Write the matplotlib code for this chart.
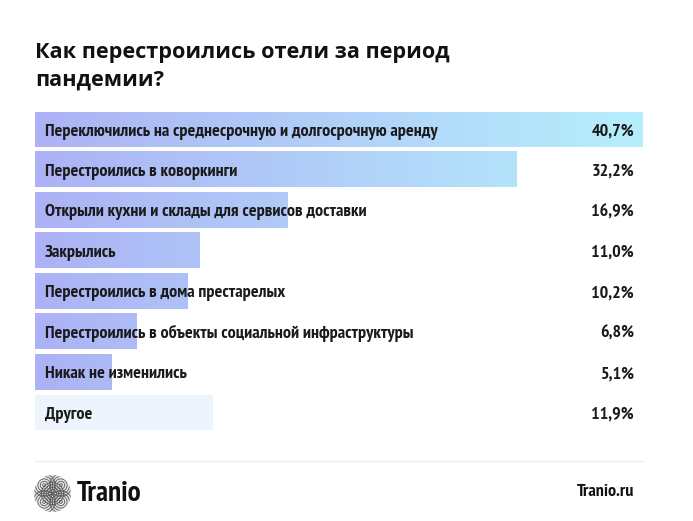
import numpy as np
import matplotlib
matplotlib.use("Agg")
import matplotlib.pyplot as plt
from matplotlib.colors import LinearSegmentedColormap
from matplotlib.patches import Circle

labels = [
    "Переключились на среднесрочную и долгосрочную аренду",
    "Перестроились в коворкинги",
    "Открыли кухни и склады для сервисов доставки",
    "Закрылись",
    "Перестроились в дома престарелых",
    "Перестроились в объекты социальной инфраструктуры",
    "Никак не изменились",
    "Другое",
]
values = [40.7, 32.2, 16.9, 11.0, 10.2, 6.8, 5.1, 11.9]
value_labels = ["40,7%", "32,2%", "16,9%", "11,0%", "10,2%", "6,8%", "5,1%", "11,9%"]

W, H = 693, 521
fig = plt.figure(figsize=(W / 100, H / 100), dpi=100)
fig.patch.set_facecolor("white")

narrow = ["PT Sans Narrow", "Roboto Condensed", "DejaVu Sans"]
head = ["Open Sans", "DejaVu Sans"]

# bar axes, pixel box 35..643 x 112..430
ax = fig.add_axes([35 / W, 1 - 430 / H, 608 / W, 318 / H])
half = 0.433
vmax = max(values)
ax.axis("off")

cmap = LinearSegmentedColormap.from_list("grad", ["#acb2f5", "#b6effc"])
bh = 35 / 40.4
for i, (lab, v, vl) in enumerate(zip(labels, values, value_labels)):
    if lab == "Другое":
        ax.barh(i, v, height=bh, color="#eef4fd", zorder=1)
    else:
        grad = np.linspace(0, v / vmax, 256).reshape(1, -1)
        ax.imshow(grad, cmap=cmap, vmin=0, vmax=1, aspect="auto",
                  extent=(0, v, i + bh / 2, i - bh / 2), zorder=1,
                  interpolation="bilinear")
    ax.text(10 / 608, i + 0.05, lab, transform=ax.get_yaxis_transform(),
            ha="left", va="center", fontsize=13.1, fontweight="bold",
            family=narrow, color="#1a1a1a", zorder=3)
    ax.text(599 / 608, i + 0.05, vl, transform=ax.get_yaxis_transform(),
            ha="right", va="center", fontsize=13, fontweight="bold",
            family=narrow, color="#1a1a1a", zorder=3)
ax.set_xlim(0, vmax)
ax.set_ylim(len(values) - 1 + half, -half)

# title
fig.text(35 / W, 1 - 42 / H, "Как перестроились отели за период\nпандемии?",
         ha="left", va="top", fontsize=15.6, fontweight="bold", family=head,
         color="#111111", linespacing=1.4)

# footer line
fig.add_artist(plt.Line2D([35 / W, 643 / W], [1 - 461 / H, 1 - 461 / H],
                          color="#eeeeee", lw=1))

# logo
lax = fig.add_axes([34 / W, 1 - 512 / H, 37 / W, 37 / H])
lax.set_xlim(-1, 1)
lax.set_ylim(-1, 1)
lax.set_aspect("equal")
lax.axis("off")
clip = Circle((0, 0), 1, transform=lax.transData)
for cx, cy in [(-0.45, 0.45), (0.45, 0.45), (-0.45, -0.45), (0.45, -0.45), (0, 0)]:
    for r in np.arange(0.08, 0.7, 0.13):
        c = Circle((cx, cy), r, fill=False, lw=0.6, ec="#555555")
        c.set_clip_path(clip)
        lax.add_patch(c)
lax.add_patch(Circle((0, 0), 1, fc="#bbbbbb", ec="none", alpha=0.35, zorder=0))

fig.text(77 / W, 1 - 494 / H, "Tranio", ha="left", va="center",
         fontsize=21, fontweight="bold", family=narrow, color="#111111")
fig.text(634 / W, 1 - 492 / H, "Tranio.ru", ha="right", va="center",
         fontsize=13, fontweight="bold", family=narrow, color="#111111")

fig.savefig("out.png", dpi=100, facecolor="white")
